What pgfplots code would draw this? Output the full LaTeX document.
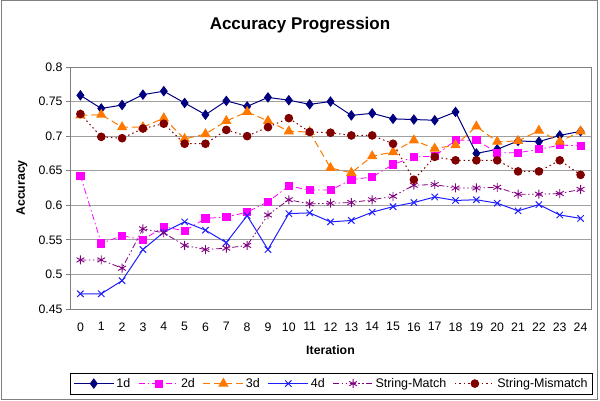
\documentclass[border=0pt]{standalone}
\usepackage{fontspec}
\setmainfont{Liberation Sans}
\usepackage{pgfplots}
\usepackage{pgfplotstable}
\pgfplotsset{compat=1.18}
\definecolor{c1d}{RGB}{0,0,128}
\definecolor{c2d}{RGB}{255,0,255}
\definecolor{c3d}{RGB}{255,120,0}
\definecolor{c4d}{RGB}{30,30,255}
\definecolor{csm}{RGB}{128,0,128}
\definecolor{csmm}{RGB}{128,0,0}
\definecolor{gridc}{RGB}{160,160,160}
\pgfplotstableread{
x d1 d2 d3 d4 sm smm
0 0.759 0.643 0.730 0.472 0.521 0.732
1 0.740 0.545 0.731 0.472 0.521 0.699
2 0.745 0.556 0.713 0.491 0.509 0.697
3 0.760 0.550 0.713 0.536 0.566 0.711
4 0.765 0.569 0.726 0.561 0.560 0.718
5 0.748 0.563 0.696 0.576 0.542 0.689
6 0.731 0.581 0.703 0.564 0.536 0.689
7 0.751 0.583 0.722 0.546 0.538 0.709
8 0.743 0.590 0.735 0.585 0.542 0.700
9 0.756 0.605 0.722 0.536 0.586 0.713
10 0.752 0.628 0.707 0.588 0.608 0.726
11 0.746 0.622 0.706 0.589 0.602 0.706
12 0.750 0.622 0.654 0.576 0.603 0.705
13 0.730 0.637 0.647 0.578 0.604 0.701
14 0.733 0.641 0.671 0.590 0.608 0.701
15 0.725 0.659 0.677 0.598 0.613 0.689
16 0.724 0.670 0.694 0.604 0.629 0.637
17 0.723 0.671 0.682 0.612 0.630 0.670
18 0.735 0.694 0.687 0.607 0.625 0.665
19 0.675 0.694 0.714 0.608 0.625 0.665
20 0.681 0.676 0.692 0.603 0.626 0.665
21 0.693 0.676 0.693 0.592 0.616 0.649
22 0.692 0.681 0.708 0.601 0.616 0.649
23 0.701 0.687 0.692 0.586 0.617 0.665
24 0.707 0.686 0.707 0.581 0.623 0.644
}\datatable
\begin{document}
\begin{tikzpicture}
\useasboundingbox (0pt,0pt) rectangle (600pt,401pt);
\draw[gray, line width=1pt] (1pt,1pt) rectangle (597.5pt,400pt);
\node[font=\bfseries\fontsize{17}{20}\selectfont] at (300pt,376pt) {Accuracy Progression};
\begin{axis}[
  at={(70pt,92pt)}, anchor=south west,
  scale only axis, width=521pt, height=242pt,
  xmin=-0.5, xmax=24.5, ymin=0.45, ymax=0.8,
  xtick={0,1,...,24},
  ytick={0.45,0.5,0.55,0.6,0.65,0.7,0.75,0.8},
  xtick style={draw=none},
  extra x ticks={-0.5,0.5,1.5,2.5,3.5,4.5,5.5,6.5,7.5,8.5,9.5,10.5,11.5,12.5,13.5,14.5,15.5,16.5,17.5,18.5,19.5,20.5,21.5,22.5,23.5,24.5},
  extra x tick labels={},
  extra x tick style={grid=none, major tick length=5pt, tick style={draw=gray, line width=0.8pt}},
  tick align=outside,
  xtick pos=bottom, ytick pos=left,
  major tick length=4pt,
  ytick style={draw=gray, line width=0.8pt},
  ymajorgrids,
  grid style={gridc, line width=0.9pt},
  axis line style={gray, line width=0.9pt},
  /pgf/number format/assume math mode=true,
  /pgf/number format/fixed,
  /pgf/number format/precision=2,
  tick label style={font=\fontsize{12.3}{14}\selectfont},
  xticklabel style={yshift=-6pt},
  xlabel={Iteration}, ylabel={Accuracy},
  label style={font=\bfseries\fontsize{12.3}{14}\selectfont},
  xlabel style={at={(axis description cs:0.5,-0.169)}, anchor=center},
  ylabel style={at={(axis description cs:-0.0925,0.5)}, anchor=center},
  legend columns=6,
  legend style={at={(axis description cs:0,-0.2645)}, anchor=north west,
    draw=black, line width=0.6pt, font=\fontsize{12.5}{14}\selectfont,
    inner xsep=3pt, inner ysep=3pt, /tikz/every even column/.append style={column sep=6pt}},
  legend image code/.code={\draw[#1] plot coordinates {(0pt,0pt) (20pt,0pt) (40pt,0pt)};},
  legend image post style={mark repeat=2, mark phase=2},
]
\addplot[c1d, line width=1pt, mark=diamond*, mark size=4.5pt, mark options={solid, fill=c1d}] table[x=x,y=d1] {\datatable};
\addlegendentry{1d}
\addplot[c2d, line width=0.8pt, dash pattern=on 6pt off 3pt on 1.5pt off 3pt, mark=square*, mark size=3.6pt, mark options={solid, fill=c2d}] table[x=x,y=d2] {\datatable};
\addlegendentry{2d}
\addplot[c3d, line width=1pt, dash pattern=on 7pt off 4pt, mark=triangle*, mark size=5pt, mark options={solid, fill=c3d}] table[x=x,y=d3] {\datatable};
\addlegendentry{3d}
\addplot[c4d, line width=1pt, mark=x, mark size=4.5pt, mark options={solid, line width=1pt}] table[x=x,y=d4] {\datatable};
\addlegendentry{4d}
\addplot[csm, line width=0.8pt, dash pattern=on 6pt off 2.5pt on 1.5pt off 2.5pt on 1.5pt off 2.5pt, mark=asterisk, mark size=4.5pt, mark options={solid, line width=0.9pt}] table[x=x,y=sm] {\datatable};
\addlegendentry{String-Match}
\addplot[csmm, line width=1pt, dash pattern=on 1.5pt off 3pt, mark=*, mark size=3.8pt, mark options={solid, fill=csmm}] table[x=x,y=smm] {\datatable};
\addlegendentry{String-Mismatch}
\end{axis}
\end{tikzpicture}
\end{document}
